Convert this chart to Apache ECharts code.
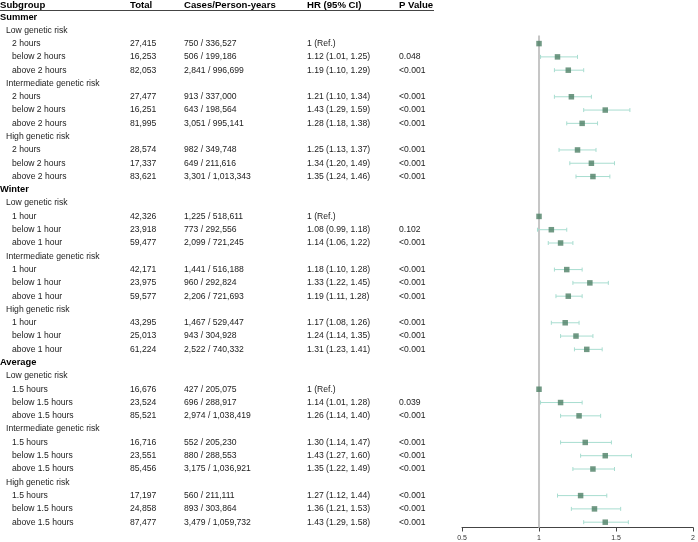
<!DOCTYPE html>
<html>
<head>
<meta charset="utf-8">
<script src="https://cdn.jsdelivr.net/npm/echarts@6/dist/echarts.min.js"></script>
<style>
  html, body { margin: 0; padding: 0; background: #fff; }
  #chart { width: 698px; height: 542px; }
</style>
</head>
<body>
<div id="chart"></div>
<script>
const sections = ['Summer', 'Winter', 'Average']
const riskGroups = ['Low genetic risk', 'Intermediate genetic risk', 'High genetic risk']
const durations = [
  ['2 hours', 'below 2 hours', 'above 2 hours'],
  ['1 hour', 'below 1 hour', 'above 1 hour'],
  ['1.5 hours', 'below 1.5 hours', 'above 1.5 hours'],
]

// one entry per data row, in the order they appear
const totals = [
  '27,415', '16,253', '82,053', '27,477', '16,251', '81,995', '28,574', '17,337', '83,621',
  '42,326', '23,918', '59,477', '42,171', '23,975', '59,577', '43,295', '25,013', '61,224',
  '16,676', '23,524', '85,521', '16,716', '23,551', '85,456', '17,197', '24,858', '87,477',
]
const cases = [
  '750 / 336,527', '506 / 199,186', '2,841 / 996,699',
  '913 / 337,000', '643 / 198,564', '3,051 / 995,141',
  '982 / 349,748', '649 / 211,616', '3,301 / 1,013,343',
  '1,225 / 518,611', '773 / 292,556', '2,099 / 721,245',
  '1,441 / 516,188', '960 / 292,824', '2,206 / 721,693',
  '1,467 / 529,447', '943 / 304,928', '2,522 / 740,332',
  '427 / 205,075', '696 / 288,917', '2,974 / 1,038,419',
  '552 / 205,230', '880 / 288,553', '3,175 / 1,036,921',
  '560 / 211,111', '893 / 303,864', '3,479 / 1,059,732',
]
const hr = [
  1, 1.12, 1.19, 1.21, 1.43, 1.28, 1.25, 1.34, 1.35,
  1, 1.08, 1.14, 1.18, 1.33, 1.19, 1.17, 1.24, 1.31,
  1, 1.14, 1.26, 1.30, 1.43, 1.35, 1.27, 1.36, 1.43,
]
const lower = [
  null, 1.01, 1.10, 1.10, 1.29, 1.18, 1.13, 1.20, 1.24,
  null, 0.99, 1.06, 1.10, 1.22, 1.11, 1.08, 1.14, 1.23,
  null, 1.01, 1.14, 1.14, 1.27, 1.22, 1.12, 1.21, 1.29,
]
const upper = [
  null, 1.25, 1.29, 1.34, 1.59, 1.38, 1.37, 1.49, 1.46,
  null, 1.18, 1.22, 1.28, 1.45, 1.28, 1.26, 1.35, 1.41,
  null, 1.28, 1.40, 1.47, 1.60, 1.49, 1.44, 1.53, 1.58,
]
const pValues = [
  '', '0.048', '<0.001', '<0.001', '<0.001', '<0.001', '<0.001', '<0.001', '<0.001',
  '', '0.102', '<0.001', '<0.001', '<0.001', '<0.001', '<0.001', '<0.001', '<0.001',
  '', '0.039', '<0.001', '<0.001', '<0.001', '<0.001', '<0.001', '<0.001', '<0.001',
]
const headers = ['Subgroup', 'Total', 'Cases/Person-years', 'HR (95% CI)', 'P Value']
const xTicks = [0.5, 1, 1.5, 2]

// build the table rows (row index = position on the y axis)
const rows = []
sections.forEach((sec, s) => {
  rows.push({ kind: 'section', label: sec })
  riskGroups.forEach((rg, g) => {
    rows.push({ kind: 'risk', label: rg })
    durations[s].forEach((d, k) => {
      rows.push({ kind: 'item', label: d, i: s * 9 + g * 3 + k })
    })
  })
})

const colX = [0, 130, 184, 307, 399]
const textColor = '#222'
const font = 'Liberation Sans, Arial, sans-serif'

const hrText = (i) =>
  lower[i] == null ? '1 (Ref.)' : `${hr[i].toFixed(2)} (${lower[i].toFixed(2)}, ${upper[i].toFixed(2)})`

const pointData = []
const ciData = []
rows.forEach((r, idx) => {
  if (r.kind !== 'item') return
  pointData.push([hr[r.i], idx])
  if (lower[r.i] != null) ciData.push([lower[r.i], upper[r.i], idx])
})

const chart = echarts.init(document.getElementById('chart'))
chart.setOption({
  animation: false,
  backgroundColor: '#fff',
  grid: { left: 462, right: 2, top: 17, bottom: 14.5 },
  xAxis: {
    type: 'value',
    position: 'bottom',
    min: 0.5,
    max: 2,
    interval: 0.5,
    splitLine: { show: false },
    axisLine: { onZero: false, lineStyle: { color: '#444', width: 1 } },
    axisTick: { length: 4, lineStyle: { color: '#444' } },
    axisLabel: {
      color: '#333',
      fontSize: 7,
      fontFamily: font,
      margin: 7,
      formatter: (v) => (xTicks.includes(v) ? String(v) : ''),
    },
  },
  yAxis: { type: 'value', inverse: true, min: 0, max: 38.4, show: false },
  graphic: [
    {
      type: 'line',
      shape: { x1: 0, y1: 10.5, x2: 434, y2: 10.5 },
      style: { stroke: '#444', lineWidth: 1 },
    },
    ...headers.map((h, c) => ({
      type: 'text',
      x: colX[c],
      y: 5,
      style: {
        text: h,
        font: `bold 9.6px ${font}`,
        fill: '#000',
        verticalAlign: 'middle',
      },
    })),
  ],
  series: [
    {
      // reference line at HR = 1
      type: 'line',
      data: [[1, 1.4], [1, 38.4]],
      symbol: 'none',
      lineStyle: { color: '#c6c6c6', width: 2 },
      z: 1,
    },
    {
      type: 'custom',
      data: ciData,
      encode: { x: [0, 1], y: 2 },
      renderItem: (params, api) => {
        const a = api.coord([api.value(0), api.value(2)])
        const b = api.coord([api.value(1), api.value(2)])
        const st = { stroke: '#a8ddd0', lineWidth: 1 }
        return {
          type: 'group',
          children: [
            { type: 'line', shape: { x1: a[0], y1: a[1], x2: b[0], y2: b[1] }, style: st },
            { type: 'line', shape: { x1: a[0], y1: a[1] - 2, x2: a[0], y2: a[1] + 2 }, style: st },
            { type: 'line', shape: { x1: b[0], y1: b[1] - 2, x2: b[0], y2: b[1] + 2 }, style: st },
          ],
        }
      },
      z: 2,
    },
    {
      type: 'scatter',
      data: pointData,
      symbol: 'rect',
      symbolSize: 5.5,
      itemStyle: { color: '#4e7f65' },
      z: 3,
    },
    {
      // table text, positioned on the same row scale
      type: 'custom',
      clip: false,
      data: rows.map((r, idx) => [1, idx]),
      encode: { x: 0, y: 1 },
      renderItem: (params, api) => {
        const r = rows[params.dataIndex]
        const y = api.coord([1, api.value(1)])[1]
        const txt = (x, t, bold) => ({
          type: 'text',
          x: x,
          y: y,
          style: {
            text: t,
            font: bold ? `bold 9.3px ${font}` : `8.6px ${font}`,
            fill: bold ? '#000' : textColor,
            verticalAlign: 'middle',
          },
        })
        if (r.kind === 'section') return txt(0, r.label, true)
        if (r.kind === 'risk') return txt(6, r.label, false)
        const i = r.i
        return {
          type: 'group',
          children: [
            txt(12, r.label),
            txt(colX[1], totals[i]),
            txt(colX[2], cases[i]),
            txt(colX[3], hrText(i)),
            txt(colX[4], pValues[i]),
          ],
        }
      },
      z: 4,
    },
  ],
})
</script>
</body>
</html>
